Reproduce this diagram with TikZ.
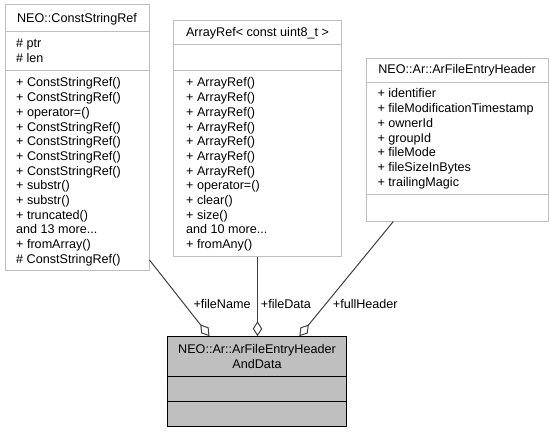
\documentclass[tikz,border=0pt]{standalone}
\usepackage{fontspec}
\setmainfont{Liberation Sans}
\usetikzlibrary{arrows.meta}
\definecolor{boxgray}{HTML}{BFBFBF}
\definecolor{edgegray}{HTML}{404040}
\newcommand\mydots{...}
\tikzset{
  txt/.style={font=\fontsize{12.6}{14.67}\selectfont, inner sep=0pt, text=black},
  classbox/.style={draw=boxgray, fill=white, line width=1pt, inner sep=0pt},
  mainbox/.style={draw=black, fill=boxgray, line width=1pt, inner sep=0pt},
  divider/.style={draw=boxgray, line width=1pt},
  maindiv/.style={draw=black, line width=1pt},
  agg/.style={draw=edgegray, line width=1pt, {Diamond[open, length=15pt, width=9.5pt]}-},
}
\begin{document}
\begin{tikzpicture}[x=1pt,y=-1pt]
\useasboundingbox[fill=white] (0,0) rectangle (554,433);

% ---- NEO::ConstStringRef
\node[classbox, minimum width=144pt, minimum height=265pt] (csr) at (77,137.5) {};
\draw[divider] (csr.west |- 0,31.7) -- (csr.east |- 0,31.7);
\draw[divider] (csr.west |- 0,70.7) -- (csr.east |- 0,70.7);
\node[txt, anchor=base] (csrt) at (77,22.5) {NEO::ConstStringRef};
\node[txt, anchor=base west] (csra0) at (16,47.5) {\# ptr};
\node[txt, anchor=base west] (csra1) at (16,62.2) {\# len};
\foreach \mytext [count=\i from 0] in {+ ConstStringRef(), + ConstStringRef(), + operator=(), + ConstStringRef(), + ConstStringRef(), + ConstStringRef(), + ConstStringRef(), + substr(), + substr(), + truncated(), and 13 more\mydots, + fromArray(), \# ConstStringRef()}
  \node[txt, anchor=base west] (csrm\i) at (16,87+\i*14.67) {\mytext};

% ---- ArrayRef< const uint8_t >
\node[classbox, minimum width=168.4pt, minimum height=236pt] (arr) at (257.5,138.7) {};
\draw[divider] (arr.west |- 0,45) -- (arr.east |- 0,45);
\draw[divider] (arr.west |- 0,70.7) -- (arr.east |- 0,70.7);
\node[txt, anchor=base] (arrt) at (257.5,37) {ArrayRef< const uint8\_t >};
\foreach \mytext [count=\i from 0] in {+ ArrayRef(), + ArrayRef(), + ArrayRef(), + ArrayRef(), + ArrayRef(), + ArrayRef(), + ArrayRef(), + operator=(), + clear(), + size(), and 10 more\mydots, + fromAny()}
  \node[txt, anchor=base west] (arrm\i) at (186,87+\i*14.67) {\mytext};

% ---- NEO::Ar::ArFileEntryHeader
\node[classbox, minimum width=182.3pt, minimum height=162.7pt] (afe) at (457.15,139.65) {};
\draw[divider] (afe.west |- 0,82.7) -- (afe.east |- 0,82.7);
\draw[divider] (afe.west |- 0,194.3) -- (afe.east |- 0,194.3);
\node[txt, anchor=base] (afet) at (457.15,74) {NEO::Ar::ArFileEntryHeader};
\foreach \mytext [count=\i from 0] in {+ identifier, + fileModificationTimestamp, + ownerId, + groupId, + fileMode, + fileSizeInBytes, + trailingMagic}
  \node[txt, anchor=base west] (afea\i) at (377.3,98+\i*14.67) {\mytext};

% ---- main node
\node[mainbox, minimum width=179.4pt, minimum height=90pt] (main) at (257,381.7) {};
\draw[maindiv] (main.west |- 0,376.7) -- (main.east |- 0,376.7);
\draw[maindiv] (main.west |- 0,401.7) -- (main.east |- 0,401.7);
\node[txt, anchor=base] (maint1) at (257,353.6) {NEO::Ar::ArFileEntryHeader};
\node[txt, anchor=base] (maint2) at (257,368) {AndData};

% ---- connectors
\draw[agg] (main.north -| 209.5,0) -- (csr.east |- 0,260);
\draw[agg] (main.north -| arr.south) -- (arr.south);
\draw[agg] (main.north -| 299.3,0) -- (afe.south -| 393.3,0);

\node[txt, anchor=base west] (lfn) at (193.3,308.5) {+fileName};
\node[txt, anchor=base west] (lfd) at (260.7,308.5) {+fileData};
\node[txt, anchor=base west] (lfh) at (332.7,308.5) {+fullHeader};
\end{tikzpicture}
\end{document}
